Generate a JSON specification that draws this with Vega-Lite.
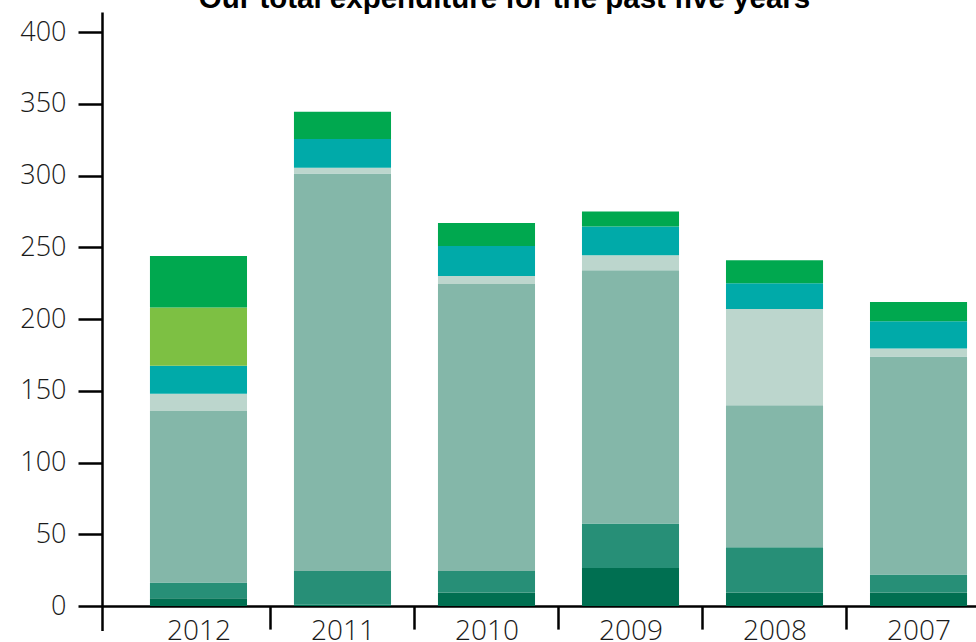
{
  "$schema": "https://vega.github.io/schema/vega-lite/v6.json",
  "autosize": "none",
  "padding": {"left": 102, "top": 12, "right": 0, "bottom": 14},
  "width": 913,
  "height": 618.5,
  "title": {
    "text": "Our total expenditure for the past five years",
    "font": "Liberation Sans",
    "fontSize": 29.5,
    "fontWeight": "bold",
    "color": "#000000",
    "anchor": "middle",
    "frame": "group",
    "dx": -54,
    "dy": 25,
    "baseline": "alphabetic",
    "offset": 0
  },
  "config": {"view": {"stroke": null}},
  "data": {
    "values": [
      {"year": "2012", "series": "Segment 1", "k": 1, "value": 5.5},
      {"year": "2012", "series": "Segment 2", "k": 2, "value": 11},
      {"year": "2012", "series": "Segment 3", "k": 3, "value": 119.5},
      {"year": "2012", "series": "Segment 4", "k": 4, "value": 12},
      {"year": "2012", "series": "Segment 5", "k": 5, "value": 19.5},
      {"year": "2012", "series": "Segment 6", "k": 6, "value": 40.5},
      {"year": "2012", "series": "Segment 7", "k": 7, "value": 36},
      {"year": "2011", "series": "Segment 1", "k": 1, "value": 1},
      {"year": "2011", "series": "Segment 2", "k": 2, "value": 23.5},
      {"year": "2011", "series": "Segment 3", "k": 3, "value": 277},
      {"year": "2011", "series": "Segment 4", "k": 4, "value": 4},
      {"year": "2011", "series": "Segment 5", "k": 5, "value": 20},
      {"year": "2011", "series": "Segment 6", "k": 6, "value": 0},
      {"year": "2011", "series": "Segment 7", "k": 7, "value": 19},
      {"year": "2010", "series": "Segment 1", "k": 1, "value": 9.5},
      {"year": "2010", "series": "Segment 2", "k": 2, "value": 15},
      {"year": "2010", "series": "Segment 3", "k": 3, "value": 200},
      {"year": "2010", "series": "Segment 4", "k": 4, "value": 5.5},
      {"year": "2010", "series": "Segment 5", "k": 5, "value": 21},
      {"year": "2010", "series": "Segment 6", "k": 6, "value": 0},
      {"year": "2010", "series": "Segment 7", "k": 7, "value": 16},
      {"year": "2009", "series": "Segment 1", "k": 1, "value": 26.5},
      {"year": "2009", "series": "Segment 2", "k": 2, "value": 31},
      {"year": "2009", "series": "Segment 3", "k": 3, "value": 176.5},
      {"year": "2009", "series": "Segment 4", "k": 4, "value": 10.5},
      {"year": "2009", "series": "Segment 5", "k": 5, "value": 20},
      {"year": "2009", "series": "Segment 6", "k": 6, "value": 0},
      {"year": "2009", "series": "Segment 7", "k": 7, "value": 10.5},
      {"year": "2008", "series": "Segment 1", "k": 1, "value": 9.5},
      {"year": "2008", "series": "Segment 2", "k": 2, "value": 31.5},
      {"year": "2008", "series": "Segment 3", "k": 3, "value": 99},
      {"year": "2008", "series": "Segment 4", "k": 4, "value": 67},
      {"year": "2008", "series": "Segment 5", "k": 5, "value": 18},
      {"year": "2008", "series": "Segment 6", "k": 6, "value": 0},
      {"year": "2008", "series": "Segment 7", "k": 7, "value": 16},
      {"year": "2007", "series": "Segment 1", "k": 1, "value": 9.5},
      {"year": "2007", "series": "Segment 2", "k": 2, "value": 12.5},
      {"year": "2007", "series": "Segment 3", "k": 3, "value": 152},
      {"year": "2007", "series": "Segment 4", "k": 4, "value": 5.5},
      {"year": "2007", "series": "Segment 5", "k": 5, "value": 19},
      {"year": "2007", "series": "Segment 6", "k": 6, "value": 0},
      {"year": "2007", "series": "Segment 7", "k": 7, "value": 13.5}
    ]
  },
  "mark": {"type": "bar"},
  "encoding": {
    "x": {
      "field": "year",
      "type": "nominal",
      "sort": ["2012", "2011", "2010", "2009", "2008", "2007"],
      "scale": {"paddingInner": 0.326, "paddingOuter": 0.333},
      "axis": {
        "title": null,
        "orient": "bottom",
        "offset": -24.4,
        "labelAngle": 0,
        "domainColor": "#000000",
        "domainWidth": 2.5,
        "tickColor": "#000000",
        "tickWidth": 2.5,
        "tickSize": 23,
        "bandPosition": 0,
        "tickOffset": -23.5,
        "labelOffset": 23.5,
        "tickOpacity": {"condition": {"test": "datum.value === '2012'", "value": 0}, "value": 1},
        "labelFont": "Open Sans",
        "labelFontSize": 28,
        "labelFontWeight": 300,
        "labelColor": "#1a1a1a",
        "labelPadding": -12,
        "labelBaseline": "top"
      }
    },
    "y": {
      "field": "value",
      "type": "quantitative",
      "stack": "zero",
      "scale": {"domain": [-17, 414], "nice": false, "zero": false},
      "axis": {
        "title": null,
        "values": [0, 50, 100, 150, 200, 250, 300, 350, 400],
        "grid": false,
        "domainColor": "#000000",
        "domainWidth": 2.5,
        "tickColor": "#000000",
        "tickWidth": 2.5,
        "tickSize": 24,
        "labelFont": "Open Sans",
        "labelFontSize": 27,
        "labelFontWeight": 300,
        "labelColor": "#1a1a1a",
        "labelPadding": 12
      }
    },
    "color": {
      "field": "series",
      "type": "nominal",
      "scale": {
        "domain": ["Segment 1", "Segment 2", "Segment 3", "Segment 4", "Segment 5", "Segment 6", "Segment 7"],
        "range": ["#006f51", "#278f77", "#84b7a9", "#bcd6cd", "#00aaa9", "#7dc043", "#00a84f"]
      },
      "legend": null
    },
    "order": {"field": "k", "type": "quantitative"}
  }
}
